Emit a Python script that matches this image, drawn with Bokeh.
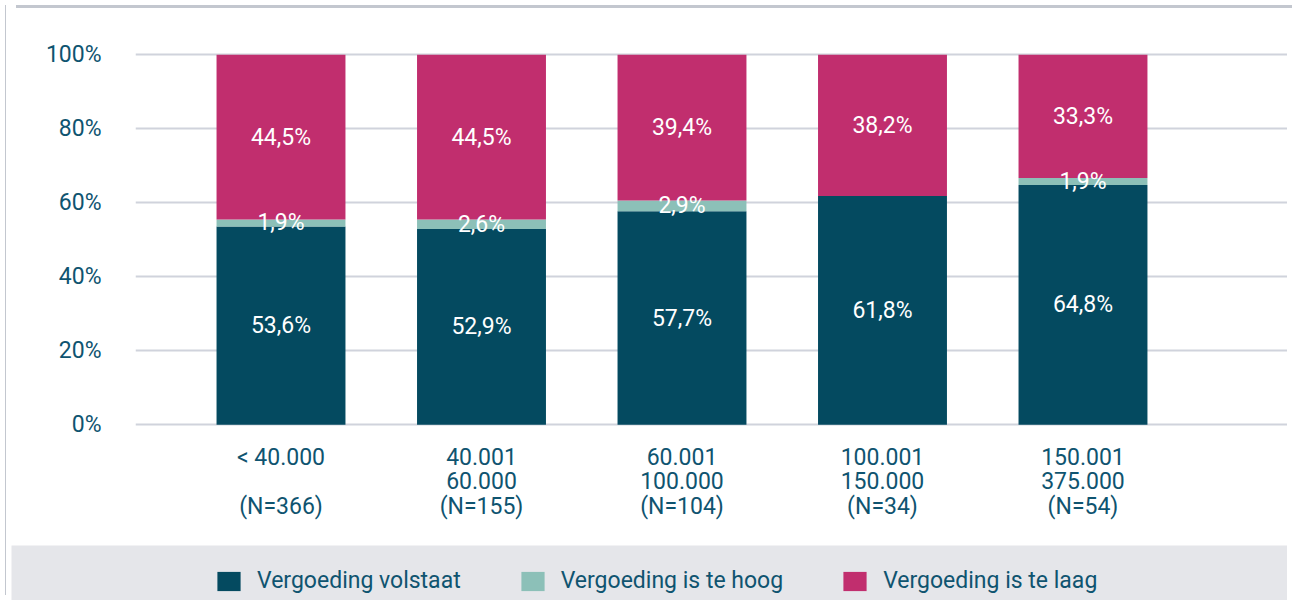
from bokeh.plotting import figure
from bokeh.models import (ColumnDataSource, Range1d, FixedTicker, PrintfTickFormatter,
                          Legend, LegendItem, Div)
from bokeh.layouts import column, row
from bokeh.core.properties import value
from bokeh.embed import file_html
from bokeh.resources import INLINE

# ---- data ----
categories = ["< 40.000\n\n(N=366)", "40.001\n60.000\n(N=155)", "60.001\n100.000\n(N=104)",
              "100.001\n150.000\n(N=34)", "150.001\n375.000\n(N=54)"]
volstaat = [53.6, 52.9, 57.7, 61.8, 64.8]
te_hoog = [1.9, 2.6, 2.9, 0.0, 1.9]
te_laag = [44.5, 44.5, 39.4, 38.2, 33.3]
series_names = ["Vergoeding volstaat", "Vergoeding is te hoog", "Vergoeding is te laag"]
y_ticks = [0, 20, 40, 60, 80, 100]

# ---- style ----
FONT = "Roboto"
TEXT_COL = "#0f5470"
COLORS = ["#044a60", "#8cc0b8", "#c12e6e"]
GRID_COL = "#d0d3dc"
BAND_COL = "#e5e6ea"
FRAME_COL = "#c3c7cf"

xs = list(range(len(categories)))
src = ColumnDataSource(dict(x=xs, volstaat=volstaat, te_hoog=te_hoog, te_laag=te_laag))

p = figure(width=1276, height=532, output_backend="svg", toolbar_location=None,
           x_range=Range1d(-0.7257, 5.02), y_range=Range1d(-1, 106),
           min_border_left=124, min_border_right=0, min_border_top=19, min_border_bottom=117)
p.outline_line_color = None
p.background_fill_color = "white"
p.border_fill_color = "white"

p.vbar_stack(["volstaat", "te_hoog", "te_laag"], x="x", width=0.643, source=src,
             color=COLORS, line_color=None)

# segment labels
lx, ly, lt = [], [], []
for i in xs:
    base = 0.0
    for vals in (volstaat, te_hoog, te_laag):
        v = vals[i]
        if v > 0:
            lx.append(i)
            ly.append(base + v / 2)
            lt.append(f"{v:.1f}".replace(".", ",") + "%")
        base += v
p.text(x=lx, y=ly, text=lt, text_color="white", text_font=value(FONT),
       text_font_size="23px", text_align="center", text_baseline="middle")

# axes
p.xaxis.ticker = FixedTicker(ticks=xs)
p.xaxis.major_label_overrides = {i: c for i, c in zip(xs, categories)}
p.xaxis.axis_line_color = None
p.xaxis.major_tick_line_color = None
p.xaxis.minor_tick_line_color = None
p.xaxis.major_label_text_font = FONT
p.xaxis.major_label_text_font_size = "23px"
p.xaxis.major_label_text_color = TEXT_COL
p.xaxis.major_label_text_line_height = 0.92
p.xaxis.major_label_standoff = 9

p.yaxis.ticker = FixedTicker(ticks=y_ticks)
p.yaxis.formatter = PrintfTickFormatter(format="%d%%")
p.yaxis.axis_line_color = None
p.yaxis.major_tick_line_color = None
p.yaxis.minor_tick_line_color = None
p.yaxis.major_label_text_font = FONT
p.yaxis.major_label_text_font_size = "23px"
p.yaxis.major_label_text_color = TEXT_COL
p.yaxis.major_label_standoff = 28

p.xgrid.grid_line_color = None
p.ygrid.grid_line_color = GRID_COL
p.ygrid.grid_line_width = 2

# ---- legend band ----
lg = figure(width=1276, height=55, output_backend="svg", toolbar_location=None,
            x_range=Range1d(0, 1), y_range=Range1d(0, 1),
            min_border_left=0, min_border_right=0, min_border_top=0, min_border_bottom=0)
lg.axis.visible = False
lg.grid.visible = False
lg.outline_line_color = None
lg.background_fill_color = BAND_COL
lg.border_fill_color = BAND_COL
items = []
for name, col in zip(series_names, COLORS):
    r = lg.vbar(x=[-5], top=[-5], width=0.1, color=col, line_color=None)
    items.append(LegendItem(label=name, renderers=[r]))
legend = Legend(items=items, orientation="horizontal", location=(203, 6),
                glyph_width=29, glyph_height=24, label_standoff=14, spacing=57,
                padding=0, margin=0, border_line_color=None, background_fill_alpha=0,
                label_text_font=FONT, label_text_font_size="23px",
                label_text_color=TEXT_COL)
lg.add_layout(legend)

left_strip = Div(width=1, height=590, styles={"background-color": FRAME_COL})
top_strip = Div(width=1276, height=3, styles={"background-color": FRAME_COL})

layout = row(left_strip, column(top_strip, p, row(lg, spacing=0), spacing=0), spacing=0)
open("out.html", "w").write(file_html(layout, INLINE))
